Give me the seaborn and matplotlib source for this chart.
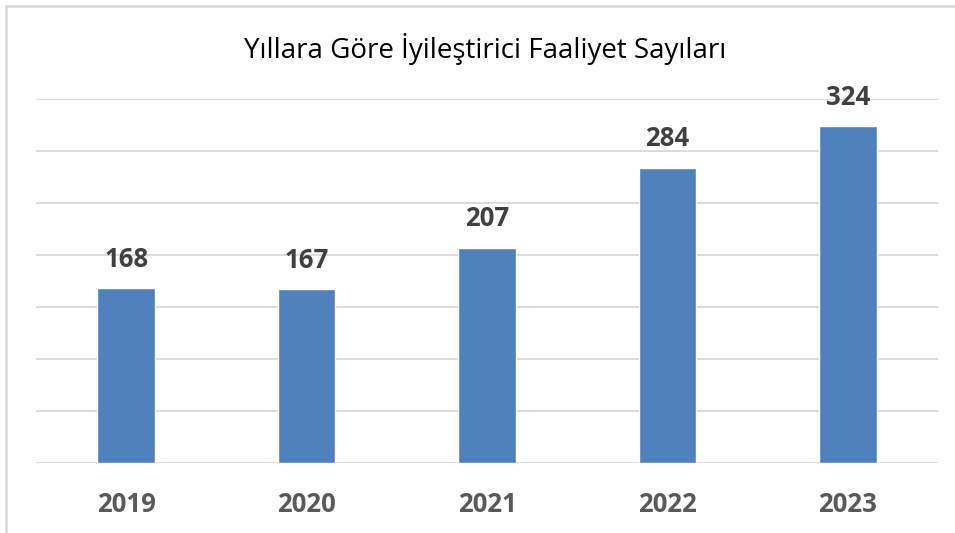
import pandas as pd
import seaborn as sns
import matplotlib.pyplot as plt
from matplotlib.patches import Rectangle

# data
years = ["2019", "2020", "2021", "2022", "2023"]
counts = [168, 167, 207, 284, 324]

df = pd.DataFrame({"Yıl": years, "Sayı": counts})

sns.set_theme(style="white")
plt.rcParams["font.family"] = ["Open Sans", "DejaVu Sans"]

W, H = 955, 533
fig = plt.figure(figsize=(W / 100, H / 100), dpi=100)
ax = fig.add_axes([36 / W, (H - 463) / H, (938 - 36) / W, (463 - 99) / H])

sns.barplot(data=df, x="Yıl", y="Sayı", order=years, color="#4F81BD",
            saturation=1, width=0.32, ax=ax)

ax.set_ylim(0, 350)
ax.set_yticks(range(0, 351, 50))
ax.yaxis.grid(True, color="#D9D9D9", linewidth=1.3)
ax.set_axisbelow(True)
ax.tick_params(axis="y", left=False, labelleft=False)
ax.tick_params(axis="x", bottom=False, pad=14, labelsize=18.5, labelcolor="#595959")
for lbl in ax.get_xticklabels():
    lbl.set_fontweight("bold")
for s in ax.spines.values():
    s.set_visible(False)
ax.set_xlabel("")
ax.set_ylabel("")

for c in ax.containers:
    ax.bar_label(c, labels=[str(v) for v in counts], padding=11,
                 fontsize=18.5, fontweight="bold", color="#404040")

fig.text(485 / W, 1 - 49 / H, "Yıllara Göre İyileştirici Faaliyet Sayıları",
         ha="center", va="center", fontsize=20, color="#000000",
         family=["Open Sans", "DejaVu Sans"])

# outer chart frame (top and left visible)
fig.patches.append(Rectangle((6 / W, -0.1), 1.2, 1 - 6 / H + 0.1,
                             transform=fig.transFigure, fill=False,
                             edgecolor="#D9D9D9", linewidth=2))

fig.savefig("out.png", dpi=100)
